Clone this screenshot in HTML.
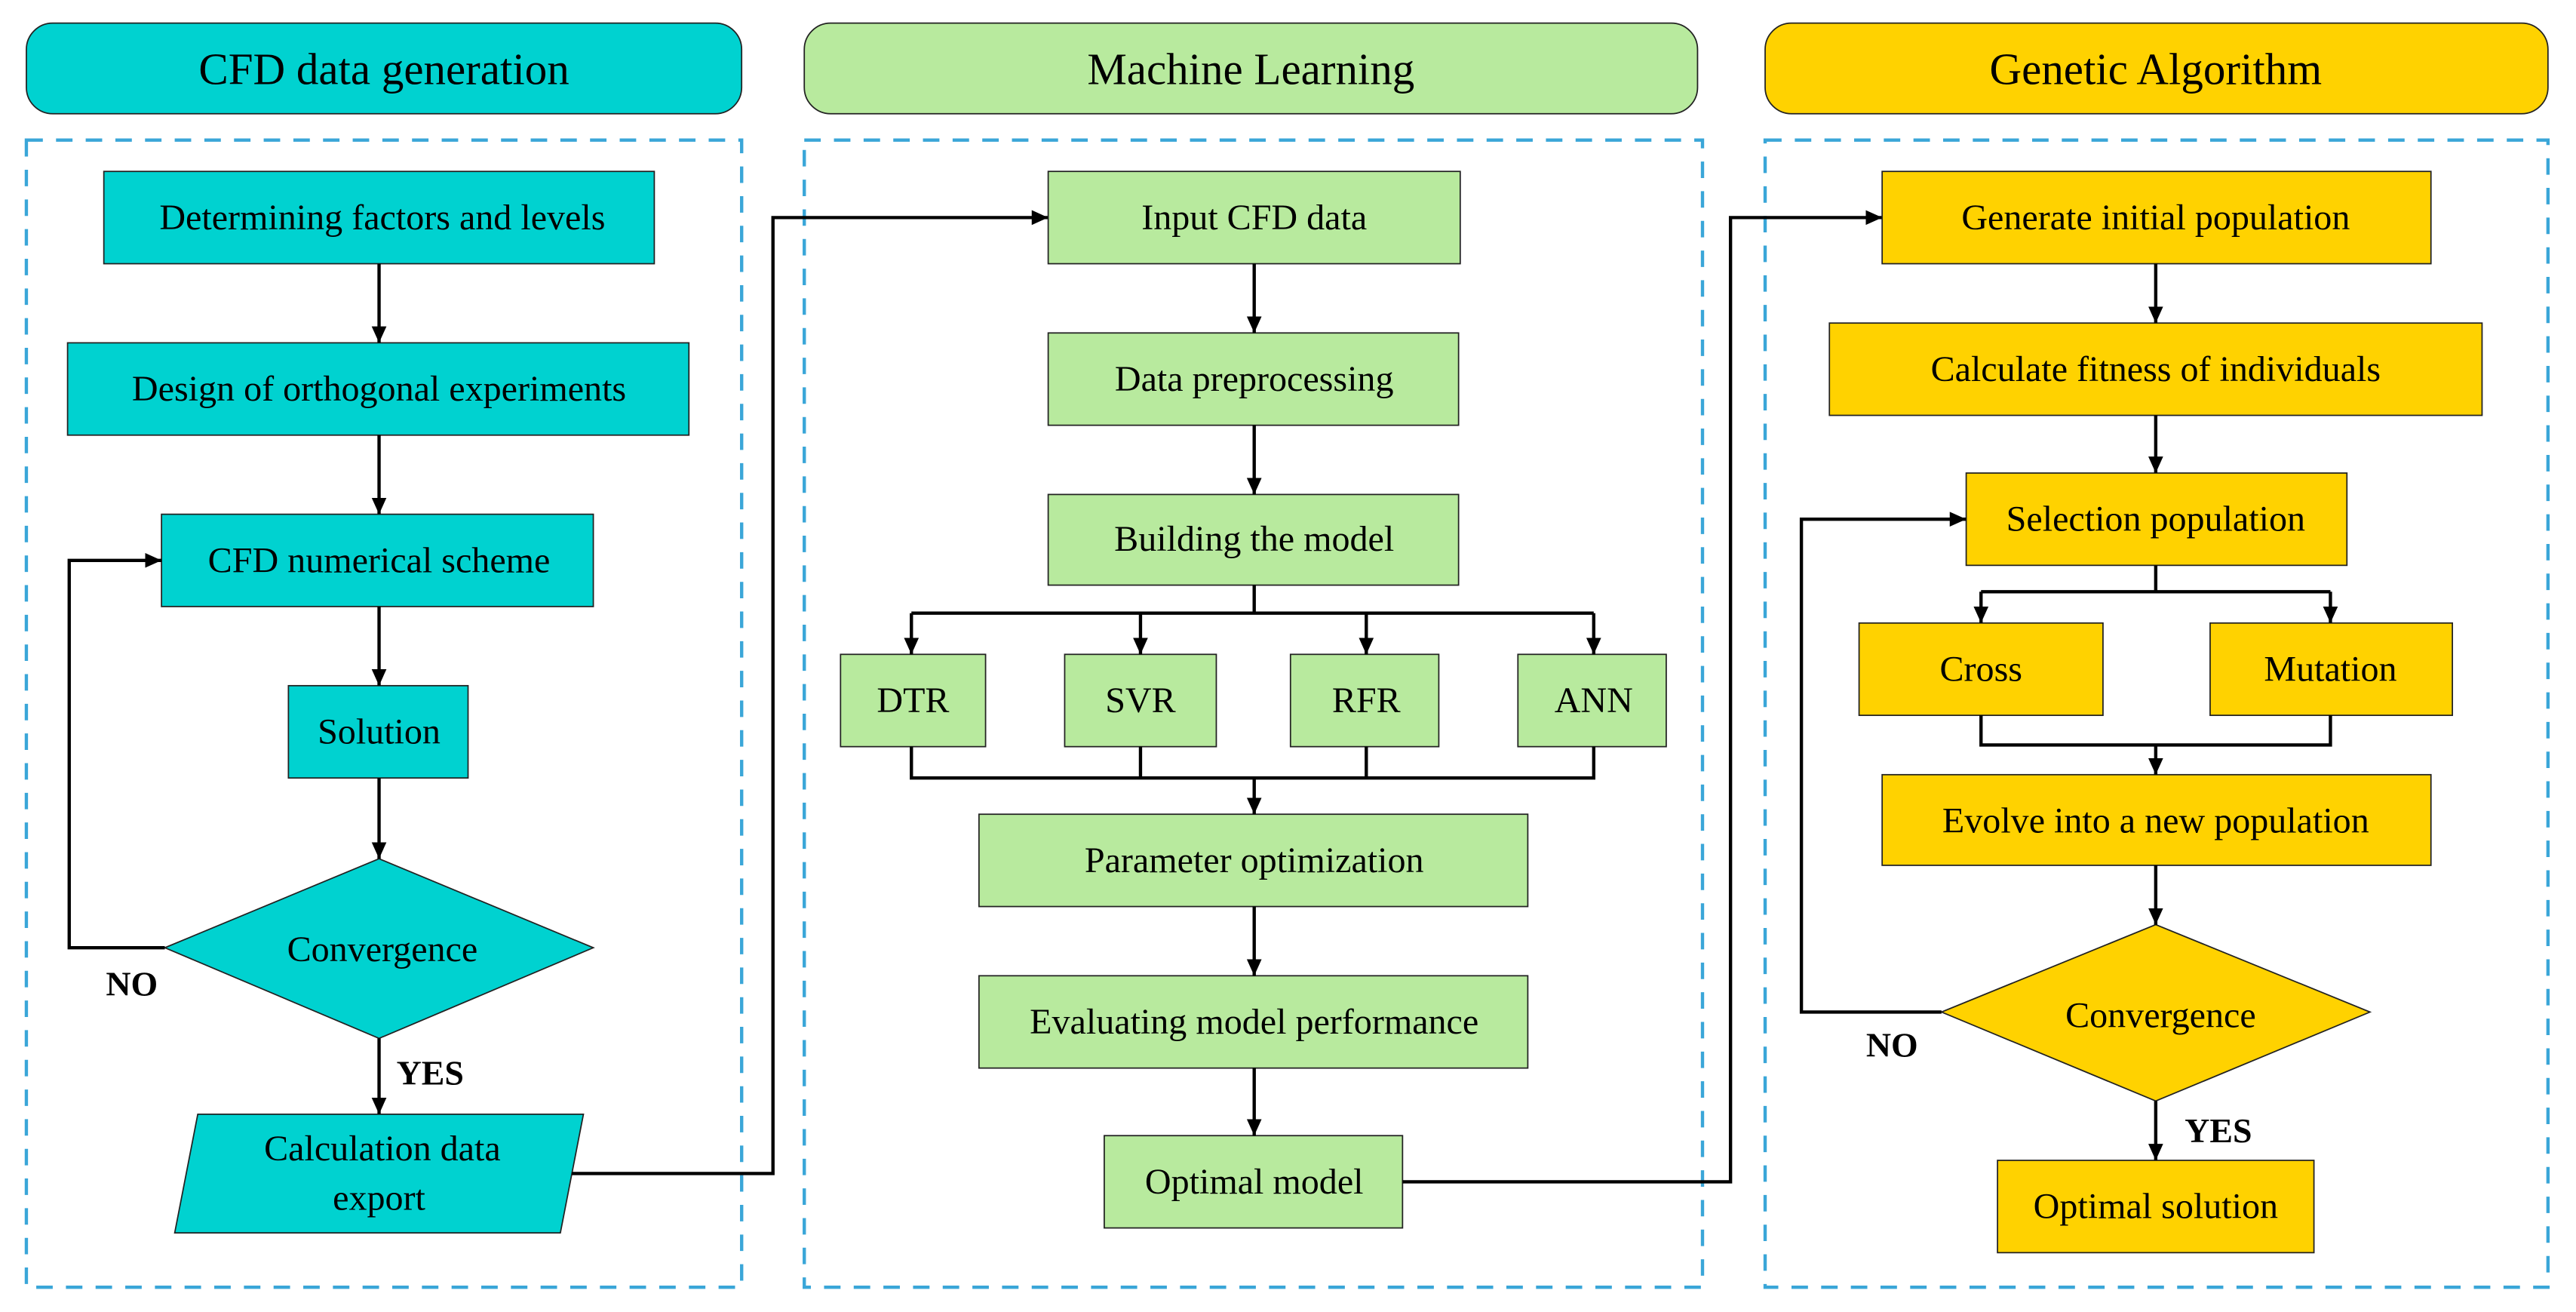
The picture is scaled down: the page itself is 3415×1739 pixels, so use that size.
<!DOCTYPE html>
<html><head><meta charset="utf-8"><style>html,body{margin:0;padding:0;background:#fff}svg{display:block}</style></head>
<body>
<svg width="3415" height="1739" viewBox="0 0 1563 796" preserveAspectRatio="none" xmlns="http://www.w3.org/2000/svg">
<defs>
<marker id="a" viewBox="0 0 10 10" refX="10" refY="5" markerWidth="10" markerHeight="10" markerUnits="userSpaceOnUse" orient="auto">
<path d="M0,0.5 L10,5 L0,9.5 z" fill="#000"/></marker>
</defs>
<style>
.c{fill:#00d2d0;stroke:#222;stroke-width:0.8}
.g{fill:#b8ea9e;stroke:#222;stroke-width:0.8}
.y{fill:#ffd200;stroke:#222;stroke-width:0.8}
.d{fill:none;stroke:#3aa6d8;stroke-width:2;stroke-dasharray:10 8}
.l{fill:none;stroke:#000;stroke-width:2}
.ar{marker-end:url(#a)}
text{font-family:"Liberation Serif","Times New Roman","DejaVu Serif",serif;font-size:22px;text-anchor:middle;dominant-baseline:central;fill:#000}
.h{font-size:27px}
.b{font-weight:bold;font-size:21px}
</style>
<rect class="c" x="16" y="14" width="434" height="55" rx="16"/>
<text class="h" x="233" y="42">CFD data generation</text>
<rect class="g" x="488" y="14" width="542" height="55" rx="16"/>
<text class="h" x="759" y="42">Machine Learning</text>
<rect class="y" x="1071" y="14" width="475" height="55" rx="16"/>
<text class="h" x="1308" y="42">Genetic Algorithm</text>
<rect class="d" x="16" y="85" width="434" height="696"/>
<rect class="d" x="488" y="85" width="545" height="696"/>
<rect class="d" x="1071" y="85" width="475" height="696"/>

<rect class="c" x="63" y="104" width="334" height="56"/><text x="232" y="132">Determining factors and levels</text>
<rect class="c" x="41" y="208" width="377" height="56"/><text x="230" y="236">Design of orthogonal experiments</text>
<rect class="c" x="98" y="312" width="262" height="56"/><text x="230" y="340">CFD numerical scheme</text>
<rect class="c" x="175" y="416" width="109" height="56"/><text x="230" y="444">Solution</text>
<polygon class="c" points="230,521 360,575 230,630 100,575"/><text x="232" y="576">Convergence</text>
<polygon class="c" points="120,676 354,676 340,748 106,748"/>
<text x="232" y="697">Calculation data</text><text x="230" y="727">export</text>
<path class="l ar" d="M230,160V208"/><path class="l ar" d="M230,264V312"/><path class="l ar" d="M230,368V416"/>
<path class="l ar" d="M230,472V521"/><path class="l ar" d="M230,630V676"/>
<path class="l ar" d="M100,575H42V340H98"/>
<text class="b" x="80" y="597">NO</text><text class="b" x="261" y="651">YES</text>
<path class="l ar" d="M347,712H469V132H636"/>

<rect class="g" x="636" y="104" width="250" height="56"/><text x="761" y="132">Input CFD data</text>
<rect class="g" x="636" y="202" width="249" height="56"/><text x="761" y="230">Data preprocessing</text>
<rect class="g" x="636" y="300" width="249" height="55"/><text x="761" y="327">Building the model</text>
<rect class="g" x="510" y="397" width="88" height="56"/><text x="554" y="425">DTR</text>
<rect class="g" x="646" y="397" width="92" height="56"/><text x="692" y="425">SVR</text>
<rect class="g" x="783" y="397" width="90" height="56"/><text x="829" y="425">RFR</text>
<rect class="g" x="921" y="397" width="90" height="56"/><text x="967" y="425">ANN</text>
<rect class="g" x="594" y="494" width="333" height="56"/><text x="761" y="522">Parameter optimization</text>
<rect class="g" x="594" y="592" width="333" height="56"/><text x="761" y="620">Evaluating model performance</text>
<rect class="g" x="670" y="689" width="181" height="56"/><text x="761" y="717">Optimal model</text>
<path class="l ar" d="M761,160V202"/><path class="l ar" d="M761,258V300"/>
<path class="l" d="M761,355V372M553,372H967"/>
<path class="l ar" d="M553,372V397"/><path class="l ar" d="M692,372V397"/><path class="l ar" d="M829,372V397"/><path class="l ar" d="M967,372V397"/>
<path class="l" d="M553,453V472H967V453M692,453V472M829,453V472"/>
<path class="l ar" d="M761,472V494"/>
<path class="l ar" d="M761,550V592"/><path class="l ar" d="M761,648V689"/>
<path class="l ar" d="M851,717H1050V132H1142"/>

<rect class="y" x="1142" y="104" width="333" height="56"/><text x="1308" y="132">Generate initial population</text>
<rect class="y" x="1110" y="196" width="396" height="56"/><text x="1308" y="224">Calculate fitness of individuals</text>
<rect class="y" x="1193" y="287" width="231" height="56"/><text x="1308" y="315">Selection population</text>
<rect class="y" x="1128" y="378" width="148" height="56"/><text x="1202" y="406">Cross</text>
<rect class="y" x="1341" y="378" width="147" height="56"/><text x="1414" y="406">Mutation</text>
<rect class="y" x="1142" y="470" width="333" height="55"/><text x="1308" y="498">Evolve into a new population</text>
<polygon class="y" points="1308,561 1438,614 1308,668 1178,614"/><text x="1311" y="616">Convergence</text>
<rect class="y" x="1212" y="704" width="192" height="56"/><text x="1308" y="732">Optimal solution</text>
<path class="l ar" d="M1308,160V196"/><path class="l ar" d="M1308,252V287"/>
<path class="l" d="M1308,343V359M1202,359H1414"/>
<path class="l ar" d="M1202,359V378"/><path class="l ar" d="M1414,359V378"/>
<path class="l" d="M1202,434V452H1414V434"/>
<path class="l ar" d="M1308,452V470"/>
<path class="l ar" d="M1308,525V561"/>
<path class="l ar" d="M1308,668V704"/>
<path class="l ar" d="M1178,614H1093V315H1193"/>
<text class="b" x="1148" y="634">NO</text><text class="b" x="1346" y="686">YES</text>
</svg>
</body></html>
